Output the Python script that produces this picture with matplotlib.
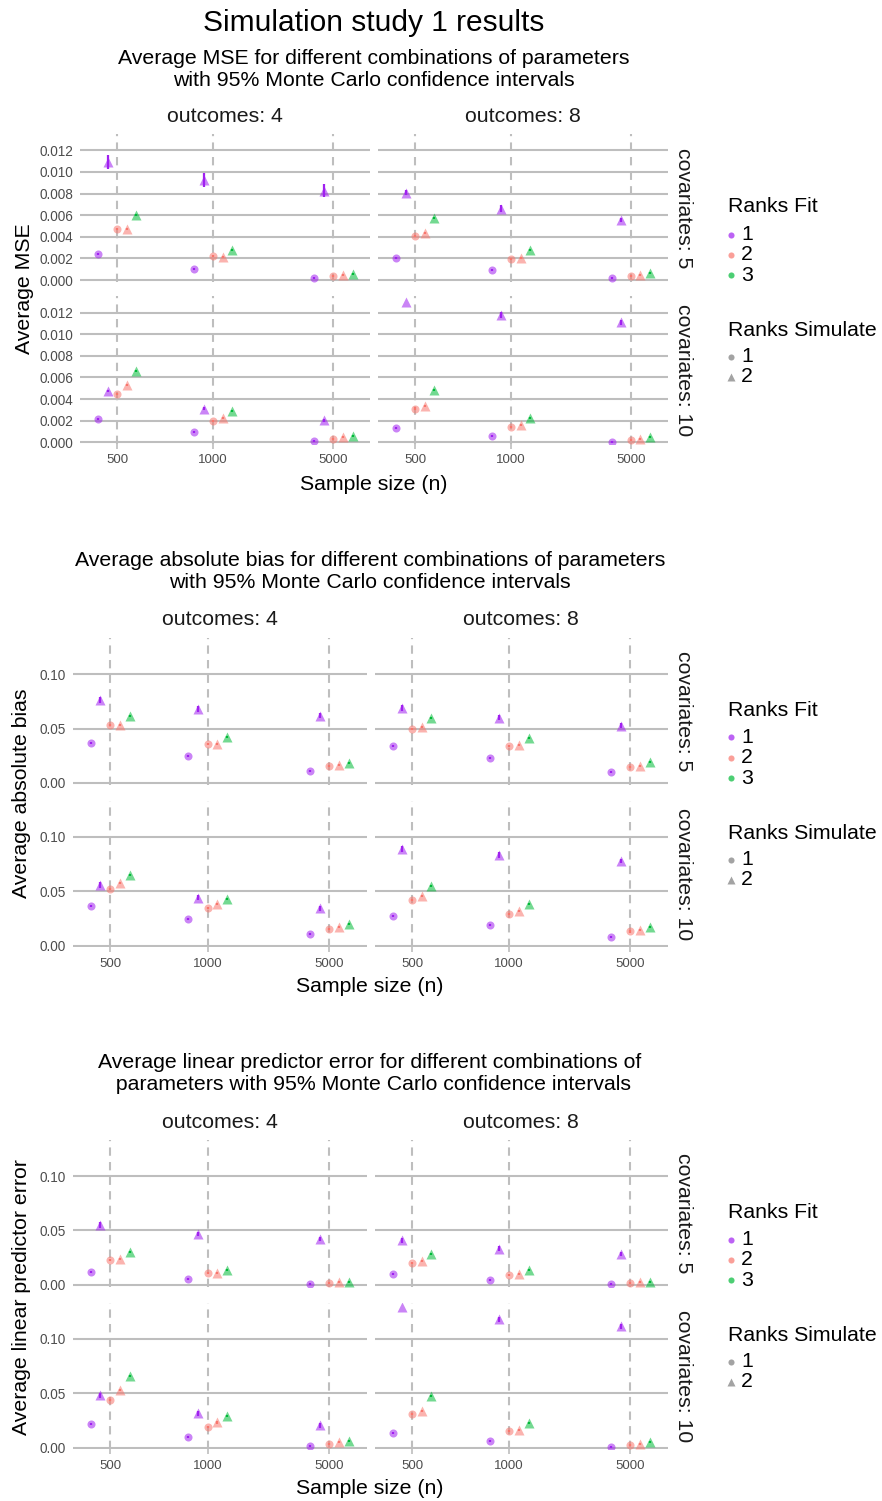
import numpy as np
import matplotlib.pyplot as plt
from matplotlib.lines import Line2D

plt.rcParams['font.family'] = ['Liberation Sans', 'DejaVu Sans']

W, H = 882, 1501

sample_sizes = [500, 1000, 5000]
outcomes = [4, 8]
covariates = [5, 10]
# (ranks fit, ranks simulate), left to right inside each sample size group
combos = [(1, 1), (1, 2), (2, 1), (2, 2), (3, 2)]
fit_colors = {1: '#A020F0', 2: '#F8766D', 3: '#00BA38'}
sim_markers = {1: 'o', 2: '^'}

# rows: n = 500, 1000, 5000 ; columns follow `combos`
mse_o4_c5 = [[0.00241, 0.01090, 0.00472, 0.00472, 0.00598],
             [0.00105, 0.00925, 0.00222, 0.00213, 0.00275],
             [0.00019, 0.00827, 0.00040, 0.00046, 0.00059]]
mse_o4_c10 = [[0.00219, 0.00475, 0.00444, 0.00527, 0.00657],
              [0.00096, 0.00312, 0.00194, 0.00228, 0.00293],
              [0.00012, 0.00204, 0.00031, 0.00046, 0.00059]]
mse_o8_c5 = [[0.00200, 0.00808, 0.00407, 0.00432, 0.00574],
             [0.00089, 0.00660, 0.00191, 0.00204, 0.00275],
             [0.00019, 0.00558, 0.00037, 0.00043, 0.00062]]
mse_o8_c10 = [[0.00136, 0.01302, 0.00312, 0.00333, 0.00484],
              [0.00062, 0.01178, 0.00145, 0.00157, 0.00225],
              [0.00006, 0.01110, 0.00025, 0.00031, 0.00049]]

bias_o4_c5 = [[0.0370, 0.0758, 0.0532, 0.0532, 0.0615],
              [0.0251, 0.0679, 0.0361, 0.0361, 0.0419],
              [0.0110, 0.0618, 0.0159, 0.0162, 0.0187]]
bias_o4_c10 = [[0.0361, 0.0554, 0.0517, 0.0572, 0.0645],
               [0.0242, 0.0440, 0.0346, 0.0379, 0.0431],
               [0.0104, 0.0343, 0.0150, 0.0168, 0.0196]]
bias_o8_c5 = [[0.0339, 0.0691, 0.0495, 0.0514, 0.0599],
              [0.0232, 0.0599, 0.0336, 0.0349, 0.0416],
              [0.0104, 0.0526, 0.0150, 0.0159, 0.0190]]
bias_o8_c10 = [[0.0272, 0.0890, 0.0419, 0.0456, 0.0550],
               [0.0193, 0.0832, 0.0294, 0.0315, 0.0379],
               [0.0083, 0.0777, 0.0131, 0.0141, 0.0168]]

lpe_o4_c5 = [[0.0119, 0.0550, 0.0229, 0.0235, 0.0300],
             [0.0052, 0.0468, 0.0110, 0.0110, 0.0141],
             [0.0006, 0.0422, 0.0018, 0.0024, 0.0031]]
lpe_o4_c10 = [[0.0220, 0.0480, 0.0437, 0.0526, 0.0657],
              [0.0095, 0.0315, 0.0193, 0.0232, 0.0291],
              [0.0015, 0.0205, 0.0034, 0.0049, 0.0064]]
lpe_o8_c5 = [[0.0098, 0.0410, 0.0202, 0.0220, 0.0287],
             [0.0043, 0.0333, 0.0092, 0.0104, 0.0141],
             [0.0006, 0.0284, 0.0018, 0.0024, 0.0031]]
lpe_o8_c10 = [[0.0135, 0.1291, 0.0306, 0.0333, 0.0474],
              [0.0064, 0.1177, 0.0150, 0.0162, 0.0226],
              [0.0009, 0.1113, 0.0028, 0.0034, 0.0052]]

# CI half widths for the (fit 1, simulate 2) series; nan = interval outside the axis
ci_mse_o4_c5 = [0.00066, 0.00065, 0.00062]
ci_mse_o4_c10 = [0.00012, 0.00012, 0.00012]
ci_mse_o8_c5 = [0.00020, 0.00030, 0.00020]
ci_mse_o8_c10 = [np.nan, 0.00030, 0.00025]
ci_mse_other = 0.0001

ci_bias_tri = [0.0028, 0.0025, 0.0022]
ci_bias_other = 0.001

ci_lpe_tri = [0.0025, 0.0022, 0.0020]
ci_lpe_tri_o8_c10 = [np.nan, 0.0022, 0.0020]
ci_lpe_other = 0.001

xpos = {500: 1.0, 1000: 2.0, 5000: 3.25}
dodge = 0.1
grid_col = '#BEBEBE'

sections = [
    dict(title='Average MSE for different combinations of parameters\nwith 95% Monte Carlo confidence intervals',
         ylabel='Average MSE',
         data={(4, 5): mse_o4_c5, (4, 10): mse_o4_c10, (8, 5): mse_o8_c5, (8, 10): mse_o8_c10},
         ci={(4, 5): ci_mse_o4_c5, (4, 10): ci_mse_o4_c10, (8, 5): ci_mse_o8_c5, (8, 10): ci_mse_o8_c10},
         ci_other=ci_mse_other,
         yticks=np.arange(0, 0.0121, 0.002), yfmt='%.3f', ylim=(-0.00016, 0.01353), ppu=10810,
         cols=[(80, 370.5), (378, 668)], zero=[280.0, 442.3],
         sub_y=69.5, strip_y=117, xl_y=484, yl=(24, 289), xc=374, leg_y=207),
    dict(title='Average absolute bias for different combinations of parameters\nwith 95% Monte Carlo confidence intervals',
         ylabel='Average absolute bias',
         data={(4, 5): bias_o4_c5, (4, 10): bias_o4_c10, (8, 5): bias_o8_c5, (8, 10): bias_o8_c10},
         ci={(4, 5): ci_bias_tri, (4, 10): ci_bias_tri, (8, 5): ci_bias_tri, (8, 10): ci_bias_tri},
         ci_other=ci_bias_other,
         yticks=[0, 0.05, 0.10], yfmt='%.2f', ylim=(-0.0016, 0.133), ppu=1090,
         cols=[(72.5, 367), (374.5, 668)], zero=[783.0, 945.7],
         sub_y=572, strip_y=620, xl_y=987, yl=(22, 793), xc=370, leg_y=710),
    dict(title='Average linear predictor error for different combinations of\n parameters with 95% Monte Carlo confidence intervals',
         ylabel='Average linear predictor error',
         data={(4, 5): lpe_o4_c5, (4, 10): lpe_o4_c10, (8, 5): lpe_o8_c5, (8, 10): lpe_o8_c10},
         ci={(4, 5): ci_lpe_tri, (4, 10): ci_lpe_tri, (8, 5): ci_lpe_tri, (8, 10): ci_lpe_tri_o8_c10},
         ci_other=ci_lpe_other,
         yticks=[0, 0.05, 0.10], yfmt='%.2f', ylim=(-0.0016, 0.133), ppu=1090,
         cols=[(72.5, 367), (374.5, 668)], zero=[1285.0, 1447.7],
         sub_y=1074, strip_y=1122, xl_y=1489, yl=(22, 1297), xc=370, leg_y=1212),
]

fig = plt.figure(figsize=(W / 100, H / 100), dpi=100)


def fx(x):
    return x / W


def fy(y):
    return 1 - y / H


def draw_panel(ax, vals, ci_tri, ci_other, sec, bottom_row, left_col):
    ax.set_xlim(0.613, 3.637)
    ax.set_ylim(*sec['ylim'])
    for s in ax.spines.values():
        s.set_visible(False)
    ax.set_yticks(sec['yticks'])
    ax.grid(axis='y', color=grid_col, lw=1.5)
    ax.set_axisbelow(True)
    for n in sample_sizes:
        ax.axvline(xpos[n], color=grid_col, lw=1.5, ls=(0, (4, 3)), zorder=1)
    for i, n in enumerate(sample_sizes):
        for j, (f, s) in enumerate(combos):
            x = xpos[n] + (j - 2) * dodge
            y = vals[i][j]
            hw = ci_tri[i] if (f, s) == (1, 2) else ci_other
            if not np.isnan(hw):
                ax.vlines(x, y - hw, y + hw, color=fit_colors[f], lw=1.6, zorder=4)
            ax.plot(x, y, marker=sim_markers[s], ms=5.8 if s == 1 else 6.8,
                    color=fit_colors[f], alpha=0.55, mec='none', zorder=3)
    ax.set_xticks([xpos[n] for n in sample_sizes])
    if bottom_row:
        ax.set_xticklabels([str(n) for n in sample_sizes])
        ax.tick_params(axis='x', length=3.3, width=1.2, color=grid_col, pad=4,
                       labelsize=9.5, labelcolor='#4D4D4D')
    else:
        ax.tick_params(axis='x', length=0, labelbottom=False)
    if left_col:
        ax.set_yticklabels([sec['yfmt'] % v for v in sec['yticks']])
        ax.tick_params(axis='y', length=0, pad=5, labelsize=9.8, labelcolor='#4D4D4D')
    else:
        ax.tick_params(axis='y', length=0, labelleft=False)


def draw_legend(y0):
    x_key, x_lab = 731, 741
    fig.text(fx(728), fy(y0), 'Ranks Fit', fontsize=15.3, va='center', ha='left')
    for k, f in enumerate([1, 2, 3]):
        yy = y0 + 27.5 + 20.3 * k
        fig.add_artist(Line2D([fx(x_key)], [fy(yy)], transform=fig.transFigure, marker='o',
                              ms=4.4, color=fit_colors[f], alpha=0.7, mec='none'))
        fig.text(fx(x_lab), fy(yy), str(f), fontsize=15.3, va='center', ha='left')
    fig.text(fx(728), fy(y0 + 123.7), 'Ranks Simulate', fontsize=15.3, va='center', ha='left')
    for k, s in enumerate([1, 2]):
        yy = y0 + 149.7 + 20 * k
        fig.add_artist(Line2D([fx(x_key)], [fy(yy)], transform=fig.transFigure,
                              marker=sim_markers[s], ms=4.4 if s == 1 else 5.2,
                              color='#8C8C8C', alpha=0.8, mec='none'))
        fig.text(fx(x_lab), fy(yy), str(s), fontsize=15.3, va='center', ha='left')


fig.text(fx(374), fy(23), 'Simulation study 1 results', fontsize=21.5, ha='center', va='center')

for sec in sections:
    lo, hi = sec['ylim']
    for r, cov in enumerate(covariates):
        z = sec['zero'][r]
        top = z - hi * sec['ppu']
        bot = z - lo * sec['ppu']
        for c, out in enumerate(outcomes):
            x0, x1 = sec['cols'][c]
            ax = fig.add_axes([fx(x0), fy(bot), (x1 - x0) / W, (bot - top) / H])
            ax.patch.set_visible(False)
            draw_panel(ax, sec['data'][(out, cov)], sec['ci'][(out, cov)], sec['ci_other'],
                       sec, r == 1, c == 0)
            if r == 0:
                fig.text(fx((x0 + x1) / 2), fy(sec['strip_y']), f'outcomes: {out}',
                         fontsize=15.3, color='#1A1A1A', ha='center', va='center')
        fig.text(fx(683), fy((top + bot) / 2), f'covariates: {cov}', fontsize=15.3,
                 color='#1A1A1A', rotation=-90, ha='center', va='center')
    fig.text(fx(sec['xc']), fy(sec['sub_y']), sec['title'], fontsize=15.3, ha='center',
             va='center', linespacing=1.2)
    fig.text(fx(sec['xc']), fy(sec['xl_y']), 'Sample size (n)', fontsize=15.3,
             ha='center', va='center')
    fig.text(fx(sec['yl'][0]), fy(sec['yl'][1]), sec['ylabel'], fontsize=15.3,
             rotation=90, ha='center', va='center')
    draw_legend(sec['leg_y'])

fig.savefig('out.png', dpi=100)
